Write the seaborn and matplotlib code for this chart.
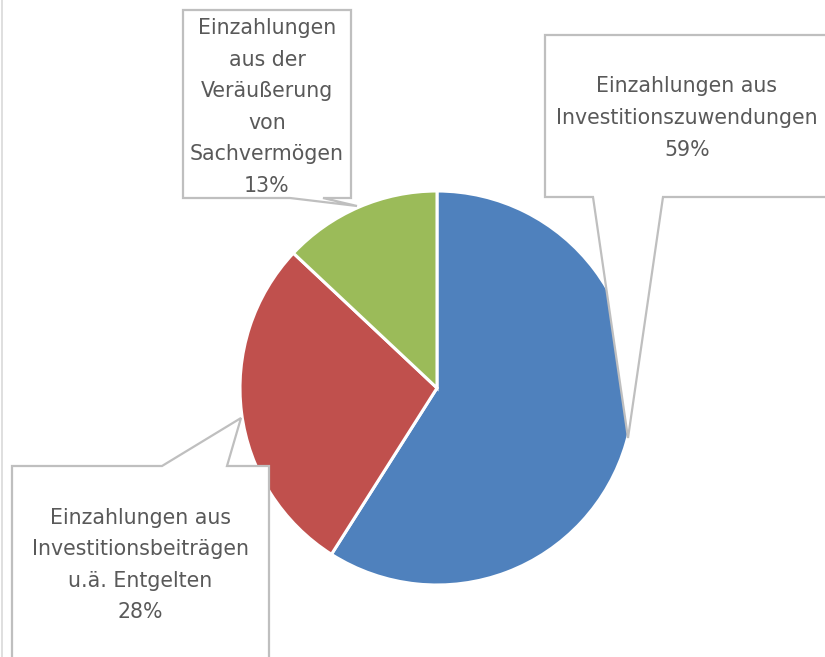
import matplotlib.pyplot as plt
import seaborn as sns
from matplotlib.patches import Polygon

##### data #####
labels = ['Einzahlungen aus\nInvestitionszuwendungen',
          'Einzahlungen aus\nInvestitionsbeiträgen\nu.ä. Entgelten',
          'Einzahlungen\naus der\nVeräußerung\nvon\nSachvermögen']
shares = [59, 28, 13]
colors = ['#4F81BD', '#C0504D', '#9BBB59']

##### figure #####
sns.set_theme(style='white')
plt.rcParams['font.family'] = ['DejaVu Sans']

W, H = 825, 657
fig = plt.figure(figsize=(W / 100, H / 100), dpi=100)
ax = fig.add_axes([0, 0, 1, 1])

# pie (pixel coordinates, y measured from bottom)
cx, cy, r = 437, H - 388, 197
ax.pie(shares, colors=colors, startangle=90, counterclock=False,
       center=(cx, cy), radius=r, frame=True,
       wedgeprops=dict(edgecolor='white', linewidth=2.2))
ax.set_xlim(0, W)
ax.set_ylim(0, H)
ax.set_aspect('equal')
ax.axis('off')

# callout boxes (top-down pixel coords converted)
def callout(pts):
    pts = [(x, H - y) for x, y in pts]
    ax.add_patch(Polygon(pts, closed=True, facecolor='white',
                         edgecolor='#BFBFBF', linewidth=1.6, zorder=3))

callout([(545, 197), (545, 35), (830, 35), (830, 197), (663, 197), (628, 438), (593, 197)])
callout([(12, 660), (12, 466), (162, 466), (241, 418), (227, 466), (269, 466), (269, 660)])
callout([(183, 198), (183, 10), (351, 10), (351, 198), (323, 198), (357, 206), (290, 198)])

text_pos = [(687, 118), (140, 565), (267, 107)]
for lab, s, (tx, ty) in zip(labels, shares, text_pos):
    ax.text(tx, H - ty, f'{lab}\n{s}%', ha='center', va='center',
            fontsize=14.8, color='#595959', linespacing=1.72, zorder=4)

# thin chart border on the left
ax.plot([1.5, 1.5], [0, H], color='#D9D9D9', linewidth=1.2, zorder=5)

fig.savefig('out.png', dpi=100)
